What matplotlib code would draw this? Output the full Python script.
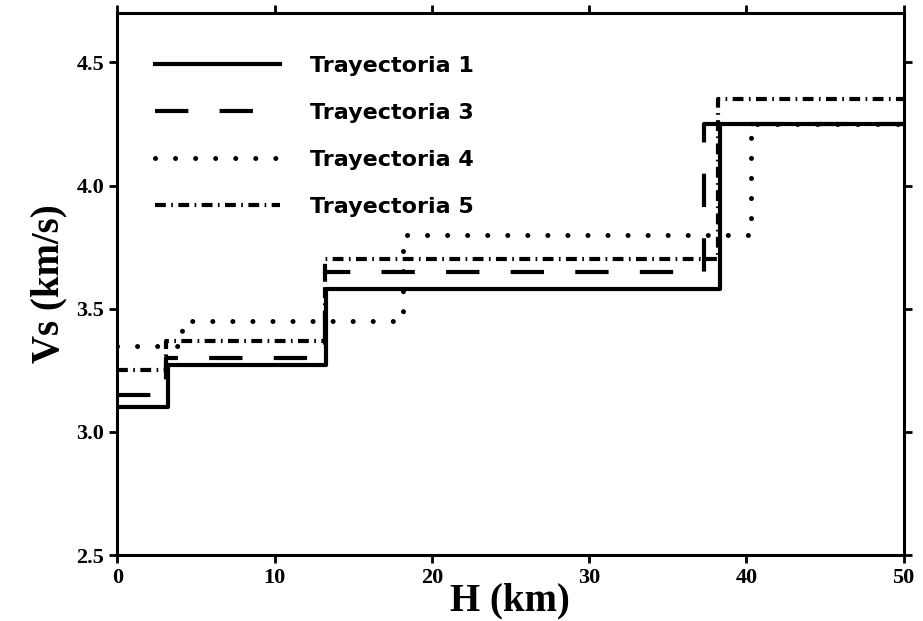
import numpy as np
import matplotlib
matplotlib.use('Agg')
import matplotlib.pyplot as plt

# layer bottoms (km) and shear velocities (km/s) for each path
h1 = [0, 3.2, 13.3, 38.3, 50]
v1 = [3.10, 3.27, 3.58, 4.25]
h3 = [0, 3.1, 13.2, 37.3, 50]
v3 = [3.15, 3.30, 3.65, 4.25]
h4 = [0, 4.1, 18.2, 40.3, 50]
v4 = [3.35, 3.45, 3.80, 4.25]
h5 = [0, 3.1, 13.2, 38.2, 50]
v5 = [3.25, 3.37, 3.70, 4.35]
labels = ['Trayectoria 1', 'Trayectoria 3', 'Trayectoria 4', 'Trayectoria 5']

fig = plt.figure(figsize=(9.23, 6.21), dpi=100)
ax = fig.add_axes([0.127, 0.106, 0.852, 0.873])

lw = 3.0
ax.step(h4, v4 + [v4[-1]], where='post', color='k', lw=lw * 1.2,
        dashes=(0.01, 4.0), dash_capstyle='round', label=labels[2], zorder=2)
ax.step(h5, v5 + [v5[-1]], where='post', color='k', lw=lw,
        dashes=(2.6, 1.3, 0.4, 1.3), label=labels[3], zorder=2)
ax.step(h3, v3 + [v3[-1]], where='post', color='k', lw=lw,
        dashes=(8, 7.5), label=labels[1], zorder=3)
ax.step(h1, v1 + [v1[-1]], where='post', color='k', lw=lw,
        label=labels[0], zorder=4)

ax.set_xlim(0, 50)
ax.set_ylim(2.5, 4.7)
ax.set_xticks([0, 10, 20, 30, 40, 50])
ax.set_yticks([2.5, 3.0, 3.5, 4.0, 4.5])
ax.set_yticklabels(['2.5', '3.0', '3.5', '4.0', '4.5'])

for s in ax.spines.values():
    s.set_linewidth(2.2)
ax.tick_params(direction='out', length=6, width=2, top=True, right=True,
               labelsize=16)
for t in ax.get_xticklabels() + ax.get_yticklabels():
    t.set_fontfamily('Liberation Serif')
    t.set_fontweight('bold')

ax.set_xlabel('H (km)', fontfamily='Liberation Serif', fontweight='bold',
              fontsize=28, labelpad=-4)
ax.set_ylabel('Vs (km/s)', fontfamily='Liberation Serif', fontweight='bold',
              fontsize=28, labelpad=6)

h, l = ax.get_legend_handles_labels()
hd = dict(zip(l, h))
leg = ax.legend([hd[x] for x in labels], labels, loc='upper left',
                bbox_to_anchor=(0.023, 0.958), frameon=False,
                handlelength=5.6, handletextpad=1.35, labelspacing=1.22,
                prop={'family': 'DejaVu Sans', 'weight': 'bold', 'size': 16})

fig.savefig('out.png', dpi=100)
